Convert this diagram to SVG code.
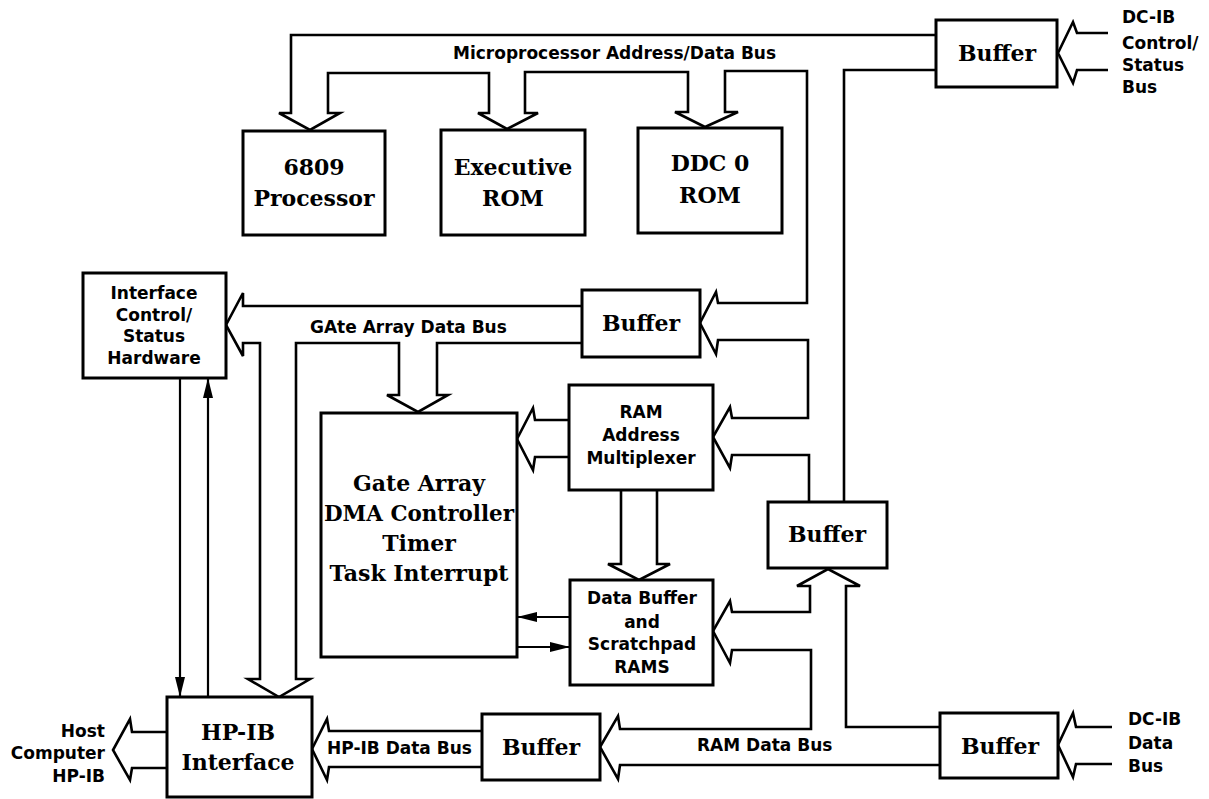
<svg xmlns="http://www.w3.org/2000/svg" width="1209" height="799" viewBox="0 0 1209 799">
<style>
.box{fill:#fff;stroke:#000;stroke-width:3}
.bus{fill:none;stroke:#000;stroke-width:2.6;stroke-linejoin:miter}
.thin{fill:none;stroke:#000;stroke-width:2.2}
.big{font-family:"DejaVu Serif","Liberation Serif",serif;font-weight:bold;font-size:22px;text-anchor:middle;fill:#000}
.lbl{font-family:"DejaVu Sans","Liberation Sans",sans-serif;font-weight:bold;font-size:17px;fill:#000}
.mid{text-anchor:middle}
.end{text-anchor:end}
</style>
<defs>
<marker id="ah" viewBox="0 0 20 10" refX="20" refY="5" markerWidth="20" markerHeight="10" markerUnits="userSpaceOnUse" orient="auto">
<path d="M0,0 L20,5 L0,10 Z" fill="#000"/>
</marker>
</defs>
<rect width="1209" height="799" fill="#fff"/>

<g id="connectors">
<!-- Microprocessor Address/Data Bus -->
<path class="bus" d="M936,35 H291 V113 H279 L310,130 L340,113 H328 V73 H489 V113 H478 L507,129 L538,113 H525 V72 H688 V112 H675 L705,127 L738,112 H725 V71 H807 V303 H718 L716,292 L700,323 L716,354 L718,340 H808 V418 H732 L730,407 L713,437 L730,468 L732,455 H809 V502"/>
<path class="bus" d="M936,70 H844 V502"/>
<!-- DC-IB Control/Status Bus input -->
<path class="bus" d="M1108,33 H1077 L1073,22 L1058,53 L1073,83 L1077,70 H1108"/>
<!-- Gate Array Data Bus -->
<path class="bus" d="M582,306 H243 L243,293 L226,325 L243,356 V343 H260 V679 H248 L279,697 L310,679 H296 V343 H399 V395 H387 L418,412 L448,395 H437 V343 H582"/>
<!-- RAM Address Multiplexer to Gate Array -->
<path class="bus" d="M569,420 H535 L533,408 L517,439 L533,470 L535,457 H569"/>
<!-- Multiplexer to Data Buffer -->
<path class="bus" d="M621,490 V564 H608 L639,580 L670,564 H657 V490"/>
<!-- RAM Data Bus -->
<path class="bus" d="M940,727 H846 V586 H860 L828,569 L797,586 H810 V612 H732 L730,601 L713,631 L730,663 L732,650 H811 V729 H620 L618,716 L600,747 L618,779 L620,765 H940"/>
<!-- HP-IB Data Bus -->
<path class="bus" d="M482,731 H329 L327,719 L312,749 L327,780 L329,767 H482"/>
<!-- Host Computer HP-IB -->
<path class="bus" d="M167,732 H132 L130,719 L113,750 L130,780 L132,768 H167"/>
<!-- DC-IB Data Bus input -->
<path class="bus" d="M1112,727 H1076 L1073,713 L1058,745 L1073,777 L1076,764 H1112"/>
<!-- thin arrows -->
<line class="thin" x1="180" y1="378" x2="180" y2="697" marker-end="url(#ah)"/>
<line class="thin" x1="208" y1="697" x2="208" y2="378" marker-end="url(#ah)"/>
<line class="thin" x1="570" y1="617" x2="517" y2="617" marker-end="url(#ah)"/>
<line class="thin" x1="517" y1="647" x2="570" y2="647" marker-end="url(#ah)"/>
</g>

<g id="n-processor">
<rect class="box" x="243" y="131" width="142" height="104"/>
<text class="big" x="314" y="175">6809</text>
<text class="big" x="314" y="206">Processor</text>
</g>
<g id="n-exec-rom">
<rect class="box" x="441" y="130" width="144" height="105"/>
<text class="big" x="513" y="175">Executive</text>
<text class="big" x="513" y="206">ROM</text>
</g>
<g id="n-ddc-rom">
<rect class="box" x="638" y="128" width="144" height="105"/>
<text class="big" x="710" y="171">DDC 0</text>
<text class="big" x="710" y="203">ROM</text>
</g>
<g id="n-buffer-top">
<rect class="box" x="936" y="20" width="121" height="67"/>
<text class="big" x="997" y="61">Buffer</text>
</g>
<g id="n-interface-ctrl">
<rect class="box" x="83" y="273" width="143" height="105"/>
<text class="lbl mid" x="154" y="299">Interface</text>
<text class="lbl mid" x="154" y="321">Control/</text>
<text class="lbl mid" x="154" y="342">Status</text>
<text class="lbl mid" x="154" y="364">Hardware</text>
</g>
<g id="n-buffer-mid">
<rect class="box" x="582" y="290" width="118" height="67"/>
<text class="big" x="641" y="331">Buffer</text>
</g>
<g id="n-ram-mux">
<rect class="box" x="569" y="385" width="144" height="105"/>
<text class="lbl mid" x="641" y="418">RAM</text>
<text class="lbl mid" x="641" y="441">Address</text>
<text class="lbl mid" x="641" y="464">Multiplexer</text>
</g>
<g id="n-gate-array">
<rect class="box" x="321" y="413" width="196" height="244"/>
<text class="big" x="419" y="491">Gate Array</text>
<text class="big" x="419" y="521" textLength="190" lengthAdjust="spacingAndGlyphs">DMA Controller</text>
<text class="big" x="419" y="551">Timer</text>
<text class="big" x="419" y="581">Task Interrupt</text>
</g>
<g id="n-buffer-right">
<rect class="box" x="768" y="502" width="119" height="66"/>
<text class="big" x="827" y="542">Buffer</text>
</g>
<g id="n-data-buffer">
<rect class="box" x="570" y="580" width="143" height="105"/>
<text class="lbl mid" x="642" y="604">Data Buffer</text>
<text class="lbl mid" x="642" y="628">and</text>
<text class="lbl mid" x="642" y="650">Scratchpad</text>
<text class="lbl mid" x="642" y="673">RAMS</text>
</g>
<g id="n-buffer-bottom">
<rect class="box" x="482" y="714" width="118" height="66"/>
<text class="big" x="541" y="755">Buffer</text>
</g>
<g id="n-hpib">
<rect class="box" x="167" y="697" width="145" height="100"/>
<text class="big" x="238" y="740">HP-IB</text>
<text class="big" x="238" y="770">Interface</text>
</g>
<g id="n-buffer-lowright">
<rect class="box" x="940" y="713" width="118" height="65"/>
<text class="big" x="1000" y="754">Buffer</text>
</g>

<g id="labels">
<text class="lbl" x="453" y="59">Microprocessor Address/Data Bus</text>
<text class="lbl" x="1122" y="23">DC-IB</text>
<text class="lbl" x="1122" y="49">Control/</text>
<text class="lbl" x="1122" y="71">Status</text>
<text class="lbl" x="1122" y="93">Bus</text>
<text class="lbl" x="310" y="333">GAte Array Data Bus</text>
<text class="lbl" x="327" y="754">HP-IB Data Bus</text>
<text class="lbl" x="697" y="751">RAM Data Bus</text>
<text class="lbl end" x="105" y="737">Host</text>
<text class="lbl end" x="105" y="759">Computer</text>
<text class="lbl end" x="105" y="782">HP-IB</text>
<text class="lbl" x="1128" y="725">DC-IB</text>
<text class="lbl" x="1128" y="749">Data</text>
<text class="lbl" x="1128" y="772">Bus</text>
</g>
</svg>
